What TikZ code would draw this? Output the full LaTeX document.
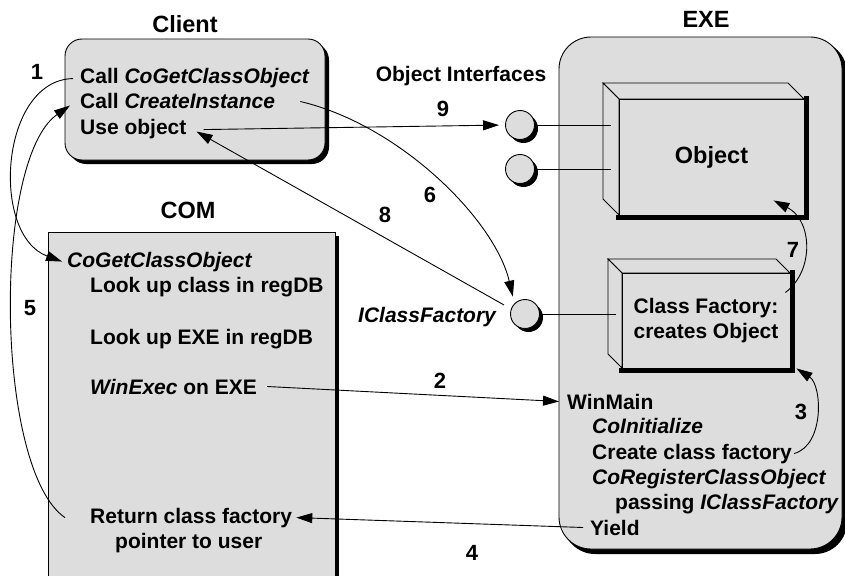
\documentclass[tikz,border=0pt]{standalone}
\usepackage{fontspec}
\setmainfont{Liberation Sans}
\usetikzlibrary{arrows.meta,calc}
\definecolor{panel}{RGB}{221,221,221}

\begin{document}
\begin{tikzpicture}[x=1pt,y=-1pt,
  body/.style={inner sep=0pt, anchor=base west, font=\fontsize{21}{25}\selectfont\bfseries},
  title/.style={inner sep=0pt, anchor=base, font=\fontsize{23.5}{28}\selectfont\bfseries},
  num/.style={inner sep=0pt, anchor=base, font=\fontsize{22}{26}\selectfont\bfseries},
  panelbox/.style={draw, fill=panel, line width=0.9pt, inner sep=0pt},
  face/.style={draw, fill=panel, line width=0.9pt, line join=miter},
  iface/.style={circle, draw, fill=panel, minimum size=29pt, inner sep=0pt, line width=0.9pt},
  flow/.style={line width=0.9pt, -{Triangle[length=16pt,width=10pt]}},
  wire/.style={line width=0.9pt},
  rim/.style={line width=4.5pt, line cap=rect},
  shade/.style={fill=black, draw=none},
]
\useasboundingbox (0,0) rectangle (845,575);

% ---- solid black shadows, laid down first ----
\path[shade, rounded corners=32pt] (563,41) rectangle (847,554);
\path[shade, rounded corners=17pt] (69,43) rectangle (329,164);
\path[shade] (52,236) rectangle (339,606);
\path[shade] (523.5,128.5) circle[radius=14.5];
\path[shade] (523.5,172.5) circle[radius=14.5];
\path[shade] (528.5,317.5) circle[radius=14.5];

% ---- containers ----
\node[panelbox, rounded corners=32pt, minimum width=283pt, minimum height=512pt] (exe) at (700.5,293) {};
\node[panelbox, rounded corners=17pt, minimum width=260pt, minimum height=121pt] (client) at (195,99.5) {};
\node[panelbox, minimum width=287pt, minimum height=370pt] (com) at (191.5,417) {};

% ---- object box (3D) ----
\draw[face] (603,83) -- (788,83) -- (804,99) -- (619,99) -- cycle;
\draw[face] (603,83) -- (619,99) -- (619,215) -- (603,199) -- cycle;
\node[draw, fill=panel, line width=0.9pt, minimum width=185pt, minimum height=116pt, inner sep=0pt,
  font=\fontsize{23.5}{28}\selectfont\bfseries] (obj) at (711.5,157) {Object};
\draw[rim] ([shift={(2,0)}]obj.north east) -- ([shift={(2,2)}]obj.south east) -- ([shift={(0,2)}]obj.south west);

% ---- class factory box (3D) ----
\draw[face] (608,259) -- (776,259) -- (790,273) -- (622,273) -- cycle;
\draw[face] (608,259) -- (622,273) -- (622,368) -- (608,354) -- cycle;
\node[draw, fill=panel, line width=0.9pt, minimum width=168pt, minimum height=95pt, inner sep=0pt,
  align=center, font=\fontsize{21}{25}\selectfont\bfseries] (cf) at (706,320.5) {Class Factory:\\creates Object};
\draw[rim] ([shift={(2,0)}]cf.north east) -- ([shift={(2,2)}]cf.south east) -- ([shift={(0,2)}]cf.south west);

% ---- interfaces ----
\node[iface] (if1) at (520,125) {};
\node[iface] (if2) at (520,169) {};
\node[iface] (ifcf) at (525,314) {};
\draw[wire] (if1.east) -- ($(obj.west |- if1.east)+(-8,0)$);
\draw[wire] (if2.east) -- ($(obj.west |- if2.east)+(-8,0)$);
\draw[wire] (ifcf.east) -- ($(cf.west |- ifcf.east)+(-6,0)$);

% ---- titles ----
\node[title] (tclient) at (185,33) {Client};
\node[title] (tcom) at (188,218) {COM};
\node[title] (texe) at (706,28) {EXE};
\node[body, anchor=base] (tif) at (461,82) {Object Interfaces};
\node[body, anchor=base east] (lcf) at (497,322) {\textit{IClassFactory}};

% ---- client steps ----
\node[body] (cl1) at (80,84) {Call \textit{CoGetClassObject}};
\node[body] (cl2) at (80,109) {Call \textit{CreateInstance}};
\node[body] (cl3) at (80,135) {Use object};

% ---- COM steps ----
\node[body] (cm0) at (67,267) {\textit{CoGetClassObject}};
\node[body] (cm1) at (90,292) {Look up class in regDB};
\node[body] (cm2) at (90,344) {Look up EXE in regDB};
\node[body] (cm3) at (90,394) {\textit{WinExec} on EXE};
\node[body] (cm4a) at (90,523) {Return class factory};
\node[body] (cm4b) at (115,548) {pointer to user};

% ---- EXE steps ----
\node[body] (ex1) at (567,409) {WinMain};
\node[body] (ex2) at (592,433) {\textit{CoInitialize}};
\node[body] (ex3) at (592,459) {Create class factory};
\node[body] (ex4) at (592,484) {\textit{CoRegisterClassObject}};
\node[body] (ex5) at (615,509) {passing \textit{IClassFactory}};
\node[body] (ex6) at (590,535) {Yield};

% ---- flows ----
\draw[flow] ([xshift=-7pt]cl1.west) .. controls (0,80) and (-10,235) .. ([xshift=-5pt]cm0.west);
\draw[flow] ([xshift=10pt]cm3.east) -- ([xshift=-8pt]ex1.west);
\draw[flow] ([xshift=2pt]ex3.east) .. controls (825,445) and (822,385) .. ([shift={(6,0)}]cf.south east);
\draw[flow] ([xshift=-7pt]ex6.west) -- ([xshift=4pt]cm4a.east);
\draw[flow] ([xshift=-25pt]cm4a.west) .. controls (-5,470) and (-8,160) .. ([shift={(-10,4)}]cl2.west);
\draw[flow, shorten >=7pt] ([xshift=25pt]cl2.east) .. controls (400,125) and (495,220) .. (ifcf.north west);
\draw[flow] ([shift={(-5,-28)}]cf.east) .. controls (815,270) and (812,220) .. ([shift={(-31,-15)}]obj.south east);
\draw[flow, shorten <=8pt] (ifcf.160) -- ([shift={(10,2)}]cl3.east);
\draw[flow, shorten >=6pt] ([xshift=17pt]cl3.east) -- (if1.west);

% ---- step numbers ----
\node[num] (n1) at (37,80) {1};
\node[num] (n2) at (440,388) {2};
\node[num] (n3) at (801,419) {3};
\node[num] (n4) at (472,560) {4};
\node[num] (n5) at (30,315) {5};
\node[num] (n6) at (430,202) {6};
\node[num] (n7) at (793,257) {7};
\node[num] (n8) at (385,222) {8};
\node[num] (n9) at (443,117) {9};
\end{tikzpicture}
\end{document}
